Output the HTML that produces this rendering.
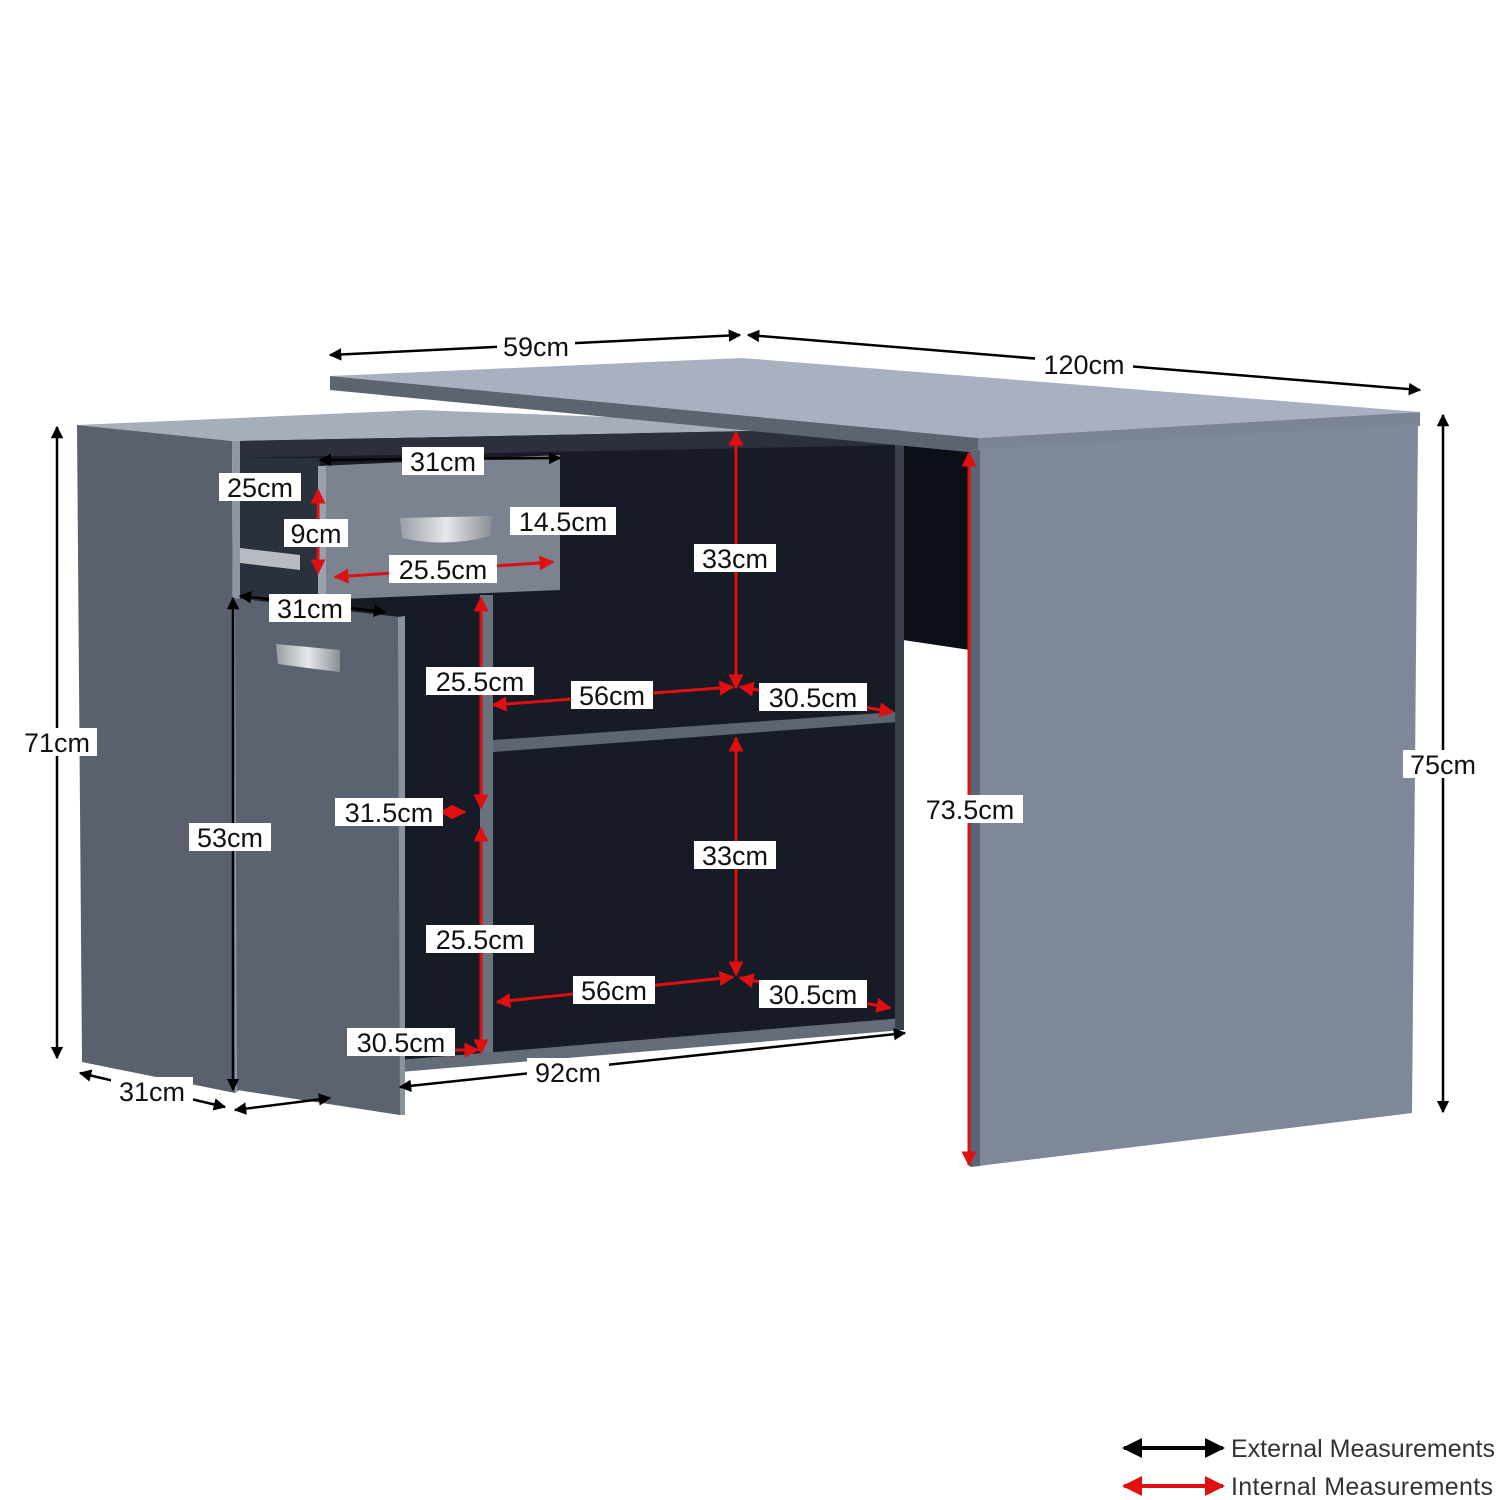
<!DOCTYPE html>
<html><head><meta charset="utf-8"><style>
html,body{margin:0;padding:0;background:#fff;}
svg{display:block;}
text{font-family:"Liberation Sans",sans-serif;font-size:27px;fill:#111;}
.lg{font-size:25px;fill:#333;}
</style></head><body>
<svg width="1500" height="1500" viewBox="0 0 1500 1500" xmlns="http://www.w3.org/2000/svg">
<defs>
<marker id="ab" viewBox="0 0 10 10" refX="9" refY="5" markerWidth="5" markerHeight="5" orient="auto-start-reverse"><path d="M0,0 L10,5 L0,10 Z" fill="#000"/></marker>
<marker id="ar" viewBox="0 0 10 10" refX="9" refY="5" markerWidth="5" markerHeight="5" orient="auto-start-reverse"><path d="M0,0 L10,5 L0,10 Z" fill="#e01010"/></marker>
<linearGradient id="hd" x1="0" y1="0" x2="1" y2="0"><stop offset="0" stop-color="#9a9ea4"/><stop offset="0.5" stop-color="#e6e8ea"/><stop offset="1" stop-color="#8a8e94"/></linearGradient>
</defs>
<polygon points="77,425 420,410 903,428 232,441" fill="#a7aebb"/>
<polygon points="77,425 232,441 235,1093 82,1062" fill="#5a606d"/>
<polygon points="238,441 903,428 903,1020 400,1060 238,1060" fill="#161b26"/>
<polygon points="238,441 903,428 903,445 238,458" fill="#2b303c"/>
<polygon points="232,441 240,441 240,1090 235,1093" fill="#8e96a3"/>
<polygon points="903,440 970,445 970,650 903,640" fill="#0c0f16"/>
<rect x="480" y="595" width="13" height="460" fill="#6a7280"/>
<polygon points="493,740 895,712 897,722 493,752" fill="#5d6573"/>
<polygon points="400,1060 903,1018 903,1030 400,1072" fill="#646c7a"/>
<rect x="895" y="440" width="9" height="590" fill="#3a404c"/>
<polygon points="240,458 320,458 320,600 240,600" fill="#2a303c"/>
<polygon points="240,548 300,555 300,570 240,563" fill="#b8bcc2"/>
<polygon points="318,466 560,455 560,590 318,600" fill="#7b8391"/>
<rect x="318" y="466" width="8" height="134" fill="#9aa1ac"/>
<path d="M400,518 L492,516 L490,536 Q446,548 402,538 Z" fill="url(#hd)"/>
<polygon points="235,598 400,617 400,1115 237,1090" fill="#5c6370"/>
<polygon points="398,617 405,616 405,1115 400,1115" fill="#8a92a0"/>
<path d="M276,644 L340,650 L340,672 Q306,668 278,664 Z" fill="url(#hd)"/>
<polygon points="330,376 742,358 1420,412 978,438" fill="#a9b1c0"/>
<polygon points="330,376 978,438 978,453 330,390" fill="#5c6472"/>
<polygon points="978,438 1420,412 1420,426 978,453" fill="#7b8494"/>
<polygon points="970,450 1418,424 1412,1113 970,1167" fill="#7f8898"/>
<polygon points="970,450 980,450 980,1166 970,1167" fill="#5d6574"/>

<g stroke="#000" stroke-width="2.5" fill="none" marker-start="url(#ab)" marker-end="url(#ab)">
<line x1="330" y1="355" x2="740" y2="335"/>
<line x1="748" y1="335" x2="1420" y2="390"/>
<line x1="57" y1="427" x2="57" y2="1058"/>
<line x1="1443" y1="415" x2="1443" y2="1112"/>
<line x1="400" y1="1087" x2="905" y2="1033"/>
<line x1="80" y1="1073" x2="225" y2="1107"/>
<line x1="235" y1="1110" x2="330" y2="1098"/>
<line x1="233" y1="598" x2="233" y2="1090"/>
<line x1="240" y1="596" x2="385" y2="612"/>
<line x1="320" y1="460" x2="560" y2="458"/>
</g>
<g stroke="#e01010" stroke-width="3" fill="none" marker-start="url(#ar)" marker-end="url(#ar)">
<line x1="969" y1="453" x2="969" y2="1165"/>
<line x1="736" y1="432" x2="736" y2="688"/>
<line x1="736" y1="738" x2="736" y2="975"/>
<line x1="481" y1="598" x2="481" y2="808"/>
<line x1="481" y1="828" x2="481" y2="1053"/>
<line x1="493" y1="705" x2="733" y2="687"/>
<line x1="740" y1="687" x2="893" y2="712"/>
<line x1="497" y1="1002" x2="733" y2="977"/>
<line x1="740" y1="978" x2="890" y2="1008"/>
<line x1="335" y1="577" x2="553" y2="562"/>
<line x1="318" y1="490" x2="318" y2="573"/>
<line x1="440" y1="812" x2="465" y2="812"/>
<line x1="440" y1="1050" x2="478" y2="1050"/>
</g>

<g>
<rect x="497" y="332" width="78" height="28" fill="#fff"/><text x="536" y="356" text-anchor="middle">59cm</text>
<rect x="1035" y="350" width="98" height="28" fill="#fff"/><text x="1084" y="374" text-anchor="middle">120cm</text>
<rect x="17" y="728" width="80" height="28" fill="#fff"/><text x="57" y="752" text-anchor="middle">71cm</text>
<rect x="1403" y="750" width="80" height="28" fill="#fff"/><text x="1443" y="774" text-anchor="middle">75cm</text>
<rect x="402" y="447" width="82" height="28" fill="#fff"/><text x="443" y="471" text-anchor="middle">31cm</text>
<rect x="219" y="473" width="82" height="28" fill="#fff"/><text x="260" y="497" text-anchor="middle">25cm</text>
<rect x="284" y="519" width="64" height="28" fill="#fff"/><text x="316" y="543" text-anchor="middle">9cm</text>
<rect x="510" y="507" width="106" height="28" fill="#fff"/><text x="563" y="531" text-anchor="middle">14.5cm</text>
<rect x="389" y="555" width="108" height="28" fill="#fff"/><text x="443" y="579" text-anchor="middle">25.5cm</text>
<rect x="269" y="594" width="82" height="28" fill="#fff"/><text x="310" y="618" text-anchor="middle">31cm</text>
<rect x="694" y="544" width="82" height="28" fill="#fff"/><text x="735" y="568" text-anchor="middle">33cm</text>
<rect x="426" y="667" width="108" height="28" fill="#fff"/><text x="480" y="691" text-anchor="middle">25.5cm</text>
<rect x="571" y="681" width="82" height="28" fill="#fff"/><text x="612" y="705" text-anchor="middle">56cm</text>
<rect x="759" y="683" width="108" height="28" fill="#fff"/><text x="813" y="707" text-anchor="middle">30.5cm</text>
<rect x="917" y="795" width="106" height="28" fill="#fff"/><text x="970" y="819" text-anchor="middle">73.5cm</text>
<rect x="189" y="823" width="82" height="28" fill="#fff"/><text x="230" y="847" text-anchor="middle">53cm</text>
<rect x="335" y="798" width="108" height="28" fill="#fff"/><text x="389" y="822" text-anchor="middle">31.5cm</text>
<rect x="694" y="841" width="82" height="28" fill="#fff"/><text x="735" y="865" text-anchor="middle">33cm</text>
<rect x="426" y="925" width="108" height="28" fill="#fff"/><text x="480" y="949" text-anchor="middle">25.5cm</text>
<rect x="573" y="976" width="82" height="28" fill="#fff"/><text x="614" y="1000" text-anchor="middle">56cm</text>
<rect x="759" y="980" width="108" height="28" fill="#fff"/><text x="813" y="1004" text-anchor="middle">30.5cm</text>
<rect x="347" y="1028" width="108" height="28" fill="#fff"/><text x="401" y="1052" text-anchor="middle">30.5cm</text>
<rect x="527" y="1058" width="82" height="28" fill="#fff"/><text x="568" y="1082" text-anchor="middle">92cm</text>
<rect x="111" y="1077" width="82" height="28" fill="#fff"/><text x="152" y="1101" text-anchor="middle">31cm</text>
</g>

<line x1="1124" y1="1448" x2="1223" y2="1448" stroke="#000" stroke-width="4" marker-start="url(#ab)" marker-end="url(#ab)"/>
<text class="lg" x="1231" y="1457" textLength="264">External Measurements</text>
<line x1="1124" y1="1486" x2="1223" y2="1486" stroke="#e01010" stroke-width="4" marker-start="url(#ar)" marker-end="url(#ar)"/>
<text class="lg" x="1231" y="1495" textLength="262">Internal Measurements</text>
</svg>
</body></html>
